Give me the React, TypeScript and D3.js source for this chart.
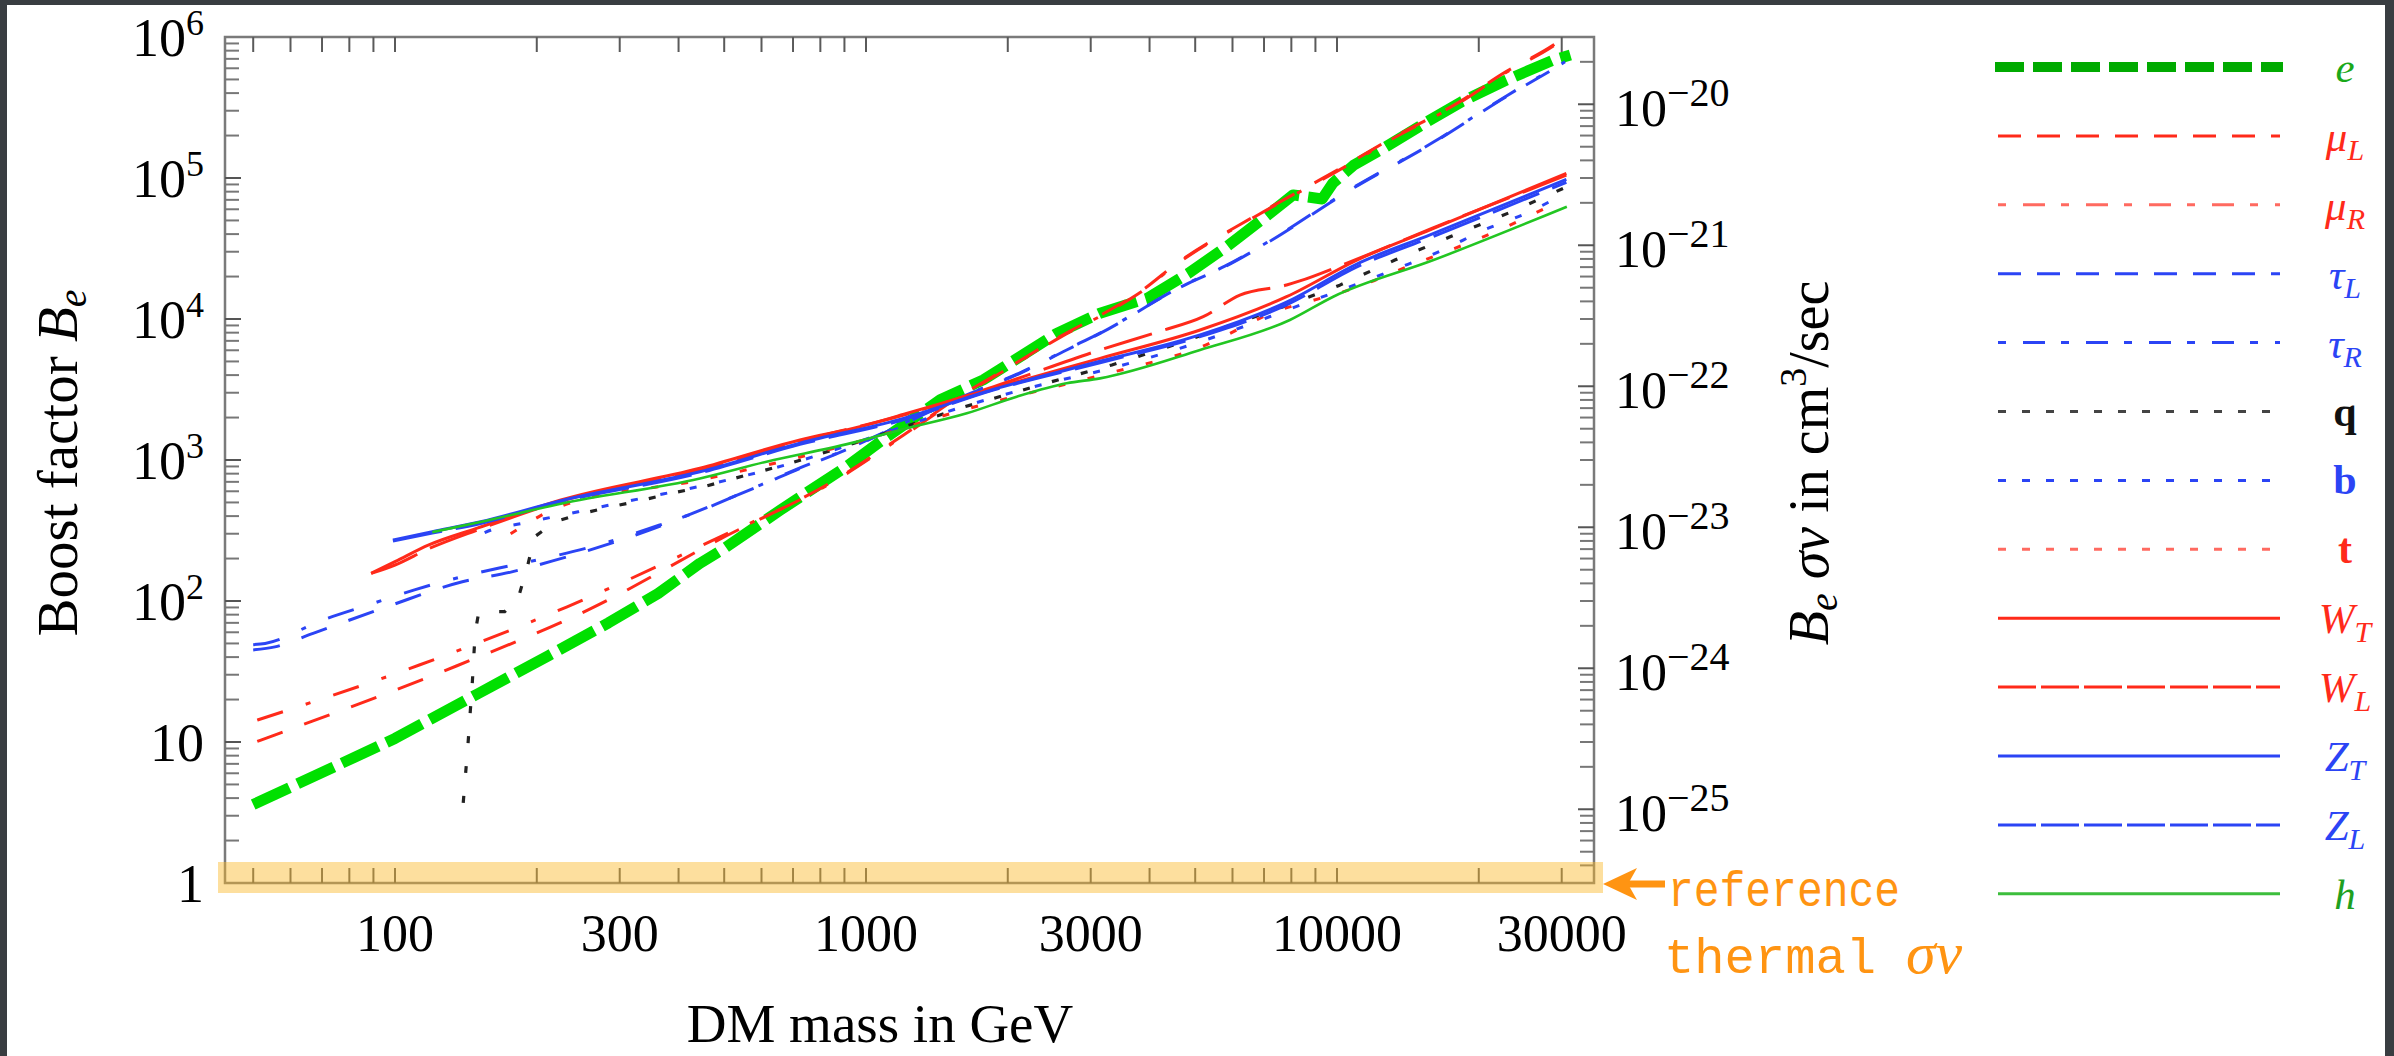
import React from 'react';
import * as d3 from 'd3';

type Pt = [number, number];

// ---------------- data: [DM mass in GeV, boost factor B_e] ----------------
const eChannel: Pt[] = [[50,3.6],[100,10.6],[150,22],[212,41],[284,70],[362,113],[444,185],[494,230],[657,440],[910,900],[1107,1460],[1437,2670],[1774,3700],[2123,5400],[2540,7900],[3140,11000],[3950,14000],[4830,21000],[5830,32600],[7060,53200],[8070,75900],[9300,71000],[9800,92000],[10840,123000],[12530,162000],[15240,241000],[18400,348000],[22900,495000],[28800,687000],[31300,745000]];
const muLChannel: Pt[] = [[51,10.1],[55.5,11.2],[135,34.6],[261,88.6],[482,267],[870,740],[1200,1500],[1600,2900],[2000,4500],[2600,7600],[3400,12300],[3820,15600],[4570,24800],[6750,54600],[10300,120000],[13060,191000],[18240,348000],[22540,552000],[28800,877000],[30500,1000000]];
const muRChannel: Pt[] = [[51,14.3],[113,35.3],[232,91],[470,267],[870,730],[1200,1480],[1600,2850],[2000,4450],[2600,7500],[3400,12100],[3820,15400],[4570,24500],[6750,54000],[10300,118000],[13060,188000],[18240,343000],[22540,545000],[28800,865000],[30500,985000]];
const tauLChannel: Pt[] = [[50,45],[55.6,47.3],[67,59],[97,92],[139,137],[177,161],[219,195],[286,255],[347,318],[444,440],[600,665],[724,872],[853,1084],[1200,1800],[1600,2800],[2123,4120],[2667,6030],[3140,7900],[4750,17400],[5780,23500],[7080,34400],[10670,82200],[16030,178000],[22900,378000],[30500,660000]];
const tauRChannel: Pt[] = [[50,49],[53,50],[70,73],[88,94],[110,120],[139,149],[174,177],[219,209],[286,264],[347,327],[430,419],[600,670],[724,880],[853,1090],[1200,1810],[1600,2820],[2123,4150],[2667,6080],[3140,7950],[4750,17500],[5780,23700],[7080,34700],[10670,83000],[16030,180000],[22900,382000],[30500,667000]];
const qChannel: Pt[] = [[139.6,3.7],[143,10],[146,27],[148,60],[150.3,80],[165,84],[171,84],[183,107],[191,175],[198,286],[219,365],[249,417],[288,466],[336,520],[390,585],[452,646],[690,946],[1072,1503],[1622,2388],[2477,3589],[3327,4720],[4385,6368],[5834,8831],[7691,12220],[10140,17380],[13270,26180],[17380,38280],[23500,57680],[30760,86700]];
const bChannel: Pt[] = [[155,305],[160,319],[186,355],[245,430],[334,535],[448,655],[700,955],[1072,1520],[1622,2410],[2477,3560],[3160,4300],[5834,8000],[7900,11700],[13180,22280],[17380,32580],[19770,40460],[26120,59290],[30000,75680]];
const tChannel: Pt[] = [[176,300],[225,470],[444,720],[925,1300],[1637,2300],[3140,3980],[5120,6300],[7570,11590],[8690,13270],[10070,15210],[11560,17860],[13270,21630],[22900,45080],[30000,69820]];
const WTChannel: Pt[] = [[89,157],[100,190],[118,250],[150,330],[225,520],[444,873],[724,1387],[970,1722],[1219,2138],[1531,2667],[1862,3221],[3140,5260],[5120,8356],[7816,14390],[11020,26180],[15850,43250],[30690,107900]];
const WLChannel: Pt[] = [[89,157],[100,180],[118,235],[150,320],[225,510],[444,855],[724,1360],[1219,2110],[1862,3300],[3140,6030],[4180,8130],[5200,10380],[6220,14790],[7816,17420],[8340,18620],[10470,24830],[15850,43700],[30690,104700]];
const ZTChannel: Pt[] = [[99,271],[120,310],[152,365],[225,515],[444,826],[724,1318],[1175,1932],[1862,3162],[3140,5012],[5120,7709],[7816,13180],[11020,24550],[15850,39810],[30690,97720]];
const ZLChannel: Pt[] = [[99,266],[120,303],[152,355],[225,505],[444,810],[724,1290],[1175,1890],[1862,3130],[3140,4900],[5120,7500],[7816,12600],[11020,23400],[15850,38000],[30690,93300]];
const hChannel: Pt[] = [[120,308],[150,360],[225,490],[444,740],[615,973],[925,1312],[1180,1633],[1637,2143],[2089,2812],[2667,3500],[3140,3793],[5120,6026],[7943,9840],[9817,14390],[16030,26180],[30760,62520]];

const xTickLabels = [100, 300, 1000, 3000, 10000, 30000];
const leftDecades = [0, 1, 2, 3, 4, 5, 6];
const rightDecades = [-25, -24, -23, -22, -21, -20];
const thermalSigmaV = 3e-26;

// ---------------- styles ----------------
const RED = '#FF2A1A';
const BLUE = '#2B44F5';
const LRED = '#FF6A60';

type S = {
  id: string; data: Pt[]; color: string; width: number; dash?: string; smooth: boolean;
  lColor: string; lWidth: number; lDash?: string; label: string; sub?: string; italic: boolean; labelColor: string;
};

const seriesList: S[] = [
  { id: 'e', data: eChannel, color: '#00E000', width: 11, dash: '40 9', smooth: false, lColor: '#00AA00', lWidth: 10, lDash: '29 9', label: 'e', italic: true, labelColor: '#1AA81A' },
  { id: 'muL', data: muLChannel, color: RED, width: 3, dash: '27 23', smooth: true, lColor: RED, lWidth: 3, lDash: '23 16', label: 'μ', sub: 'L', italic: true, labelColor: RED },
  { id: 'muR', data: muRChannel, color: RED, width: 3, dash: '27 24 5 24', smooth: true, lColor: LRED, lWidth: 3, lDash: '8 17 22 16', label: 'μ', sub: 'R', italic: true, labelColor: RED },
  { id: 'tauL', data: tauLChannel, color: BLUE, width: 3, dash: '27 23', smooth: true, lColor: BLUE, lWidth: 3, lDash: '23 16', label: 'τ', sub: 'L', italic: true, labelColor: BLUE },
  { id: 'tauR', data: tauRChannel, color: BLUE, width: 3, dash: '27 24 5 24', smooth: true, lColor: BLUE, lWidth: 3, lDash: '8 17 22 16', label: 'τ', sub: 'R', italic: true, labelColor: BLUE },
  { id: 'q', data: qChannel, color: '#222222', width: 3.2, dash: '7 23', smooth: false, lColor: '#444444', lWidth: 3, lDash: '8 16', label: 'q', italic: false, labelColor: '#111111' },
  { id: 'b', data: bChannel, color: BLUE, width: 3, dash: '7 23', smooth: true, lColor: BLUE, lWidth: 3, lDash: '8 16', label: 'b', italic: false, labelColor: BLUE },
  { id: 't', data: tChannel, color: RED, width: 3, dash: '7 23', smooth: true, lColor: LRED, lWidth: 3, lDash: '8 16', label: 't', italic: false, labelColor: RED },
  { id: 'WT', data: WTChannel, color: RED, width: 3, smooth: true, lColor: RED, lWidth: 3, label: 'W', sub: 'T', italic: true, labelColor: RED },
  { id: 'WL', data: WLChannel, color: RED, width: 3, dash: '50 14', smooth: true, lColor: RED, lWidth: 3, lDash: '38 5', label: 'W', sub: 'L', italic: true, labelColor: RED },
  { id: 'ZT', data: ZTChannel, color: BLUE, width: 3, smooth: true, lColor: BLUE, lWidth: 3, label: 'Z', sub: 'T', italic: true, labelColor: BLUE },
  { id: 'ZL', data: ZLChannel, color: BLUE, width: 3, dash: '50 14', smooth: true, lColor: BLUE, lWidth: 3, lDash: '38 5', label: 'Z', sub: 'L', italic: true, labelColor: BLUE },
  { id: 'h', data: hChannel, color: '#22C622', width: 2.6, smooth: true, lColor: '#3CBE3C', lWidth: 3, label: 'h', italic: true, labelColor: '#1FA01F' },
];

const W = 2394, H = 1056;
const PL = 225, PR = 1594, PT = 37, PB = 883;
const SERIF = '"Liberation Serif", "Times New Roman", serif';
const MONO = '"Liberation Mono", "DejaVu Sans Mono", monospace';
const ORANGE = '#FF9412';

export default function App() {
  const x = d3.scaleLog().domain([43.56, 35130]).range([PL, PR]);
  const y = d3.scaleLog().domain([1, 1e6]).range([PB, PT]);
  const yR = d3.scaleLog().domain([thermalSigmaV, thermalSigmaV * 1e6]).range([PB, PT]);

  const xTicks = x.ticks().filter(v => x(v) > PL + 2 && x(v) < PR - 2);
  const yTicks = y.ticks().filter(v => y(v) > PT + 1 && y(v) < PB - 1);
  const yRTicks = yR.ticks().filter(v => yR(v) > PT + 2 && yR(v) < PB - 2);
  const isPow10 = (v: number) => Math.abs(Math.log10(v) - Math.round(Math.log10(v))) < 1e-6;

  const lineLin = d3.line<Pt>().x(d => x(d[0])).y(d => y(d[1]));
  const lineSmooth = d3.line<Pt>().x(d => x(d[0])).y(d => y(d[1])).curve(d3.curveMonotoneX);

  const TL = 16;
  const legX0 = 1998, legX1 = 2280, legY0 = 67, legStep = 68.9, legLabelX = 2345;

  return (
    <div style={{ position: 'fixed', left: 0, top: 0, width: W, height: H, overflow: 'hidden' }}>
      <svg width={W} height={H} viewBox={`0 0 ${W} ${H}`} style={{ display: 'block' }}>
        <defs>
          <clipPath id="plotClip">
            <rect x={PL} y={PT} width={PR - PL} height={PB - PT} />
          </clipPath>
        </defs>
        <rect x={0} y={0} width={W} height={H} fill="#393d41" />
        <rect x={7} y={5} width={2378} height={1051} fill="#ffffff" />

        {/* series */}
        <g clipPath="url(#plotClip)">
          {seriesList.map(s => (
            <path key={s.id} d={(s.smooth ? lineSmooth : lineLin)(s.data) || ''} fill="none"
              stroke={s.color} strokeWidth={s.width} strokeDasharray={s.dash} strokeLinecap="butt" strokeLinejoin="round" />
          ))}
        </g>

        {/* frame */}
        <rect x={PL} y={PT} width={PR - PL} height={PB - PT} fill="none" stroke="#7a7a7a" strokeWidth={2.5} />

        {/* x ticks bottom and top */}
        {xTicks.map((v, i) => (
          <g key={'xt' + i} stroke="#5a5a5a" strokeWidth={2}>
            <line x1={x(v)} x2={x(v)} y1={PB} y2={PB - 15} />
            <line x1={x(v)} x2={x(v)} y1={PT} y2={PT + 15} />
          </g>
        ))}
        {/* left y ticks */}
        {yTicks.map((v, i) => (
          <line key={'yt' + i} x1={PL} x2={PL + (isPow10(v) ? TL : 14)} y1={y(v)} y2={y(v)}
            stroke={isPow10(v) ? '#555' : '#777'} strokeWidth={2} />
        ))}
        {/* right y ticks */}
        {yRTicks.map((v, i) => (
          <line key={'yr' + i} x1={PR} x2={PR - (isPow10(v) ? TL : 14)} y1={yR(v)} y2={yR(v)}
            stroke={isPow10(v) ? '#555' : '#777'} strokeWidth={2} />
        ))}

        {/* left tick labels */}
        {leftDecades.map(k => (
          <text key={'ll' + k} x={204} y={y(Math.pow(10, k)) + 19} textAnchor="end" fontFamily={SERIF} fontSize={54} fill="#000">
            {k === 0 ? '1' : '10'}
            {k > 1 ? <tspan fontSize={36} dy={-21}>{k}</tspan> : null}
          </text>
        ))}
        {/* right tick labels */}
        {rightDecades.map(k => (
          <text key={'rl' + k} x={1615} y={yR(Math.pow(10, k)) + 22} fontFamily={SERIF} fontSize={52} fill="#000">
            10<tspan fontSize={40} dy={-20}>{'\u2212' + Math.abs(k)}</tspan>
          </text>
        ))}
        {/* bottom tick labels */}
        {xTickLabels.map(v => (
          <text key={'bl' + v} x={x(v)} y={951} textAnchor="middle" fontFamily={SERIF} fontSize={52} fill="#000">{v}</text>
        ))}

        {/* axis titles */}
        <text x={880} y={1042} textAnchor="middle" fontFamily={SERIF} fontSize={55} fill="#000">DM mass in GeV</text>
        <text transform="translate(77,463) rotate(-90)" textAnchor="middle" fontFamily={SERIF} fontSize={57} fill="#000">
          Boost factor <tspan fontStyle="italic">B</tspan><tspan fontStyle="italic" fontSize={40} dy={9}>e</tspan>
        </text>
        <text transform="translate(1828,463) rotate(-90)" textAnchor="middle" fontFamily={SERIF} fontSize={56} fill="#000">
          <tspan fontStyle="italic">B</tspan><tspan fontStyle="italic" fontSize={40} dy={9}>e</tspan>
          <tspan fontStyle="italic" dy={-9}> σv</tspan><tspan> in cm</tspan><tspan fontSize={38} dy={-22}>3</tspan><tspan dy={22}>/sec</tspan>
        </text>

        {/* reference thermal band */}
        <rect x={218} y={862} width={1385} height={31} fill="#FAB827" fillOpacity={0.45} />
        <line x1={1626} x2={1665} y1={884} y2={884} stroke={ORANGE} strokeWidth={7} />
        <path d="M1603,884 L1637,868 L1628,884 L1637,900 Z" fill={ORANGE} />
        <text x={1668} y={906} fontFamily={MONO} fontSize={50} fill={ORANGE} textLength={232} lengthAdjust="spacingAndGlyphs">reference</text>
        <text x={1664} y={973} fontFamily={MONO} fontSize={50} fill={ORANGE} textLength={212} lengthAdjust="spacingAndGlyphs">thermal</text>
        <text x={1906} y={973} fontFamily={SERIF} fontStyle="italic" fontSize={60} fill={ORANGE}>σv</text>

        {/* legend */}
        {seriesList.map((s, i) => {
          const ly = legY0 + i * legStep;
          return (
            <g key={'lg' + s.id}>
              <line x1={s.id === 'e' ? 1995 : legX0} x2={s.id === 'e' ? 2283 : legX1} y1={ly} y2={ly}
                stroke={s.lColor} strokeWidth={s.lWidth} strokeDasharray={s.lDash} />
              {s.italic ? (
                <text x={legLabelX} y={ly + 15} textAnchor="middle" fontFamily={SERIF} fontStyle="italic" fontSize={43} fill={s.labelColor}>
                  {s.label}{s.sub ? <tspan fontSize={30} dy={9}>{s.sub}</tspan> : null}
                </text>
              ) : (
                <text x={legLabelX} y={ly + 14} textAnchor="middle" fontFamily={SERIF} fontWeight="bold" fontSize={42} fill={s.labelColor}>{s.label}</text>
              )}
            </g>
          );
        })}
      </svg>
    </div>
  );
}
